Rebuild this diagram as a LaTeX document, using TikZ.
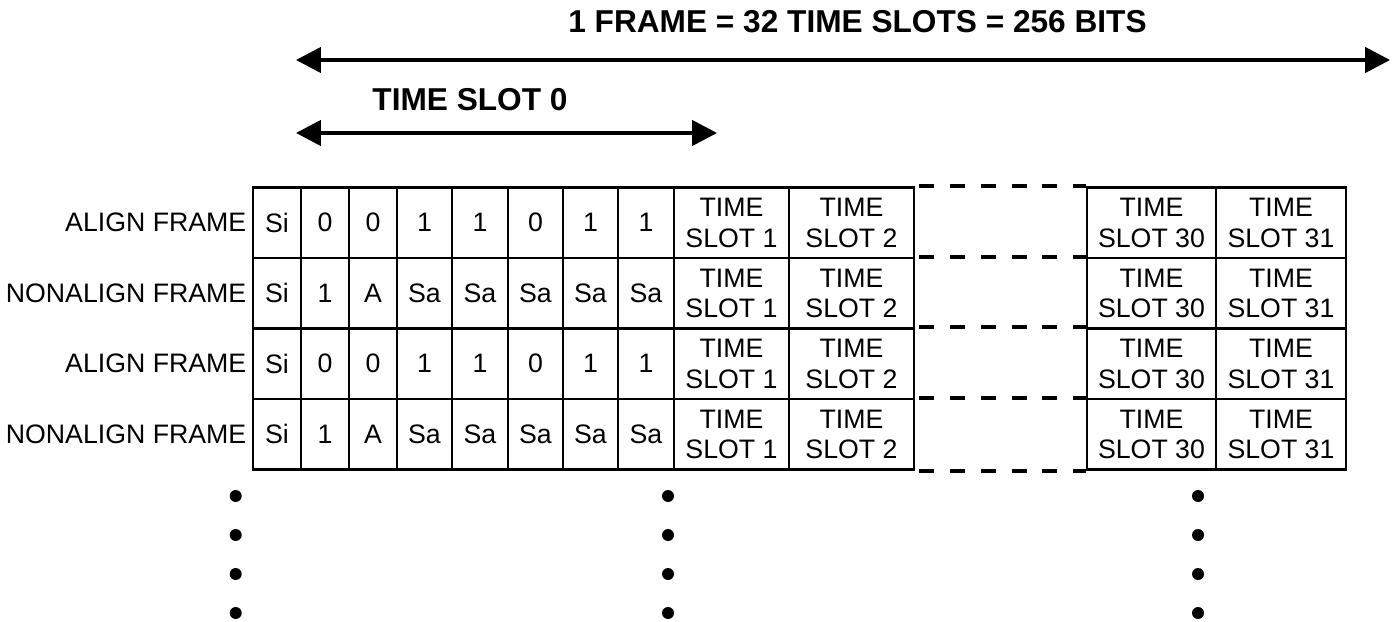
\documentclass[tikz,border=0pt]{standalone}
\usepackage{fontspec}
\setmainfont{Liberation Sans}
\usepackage{tikz}
\usetikzlibrary{arrows.meta}
\tikzset{>=stealth}
\tikzset{
  cell/.style={draw, line width=0.7pt, inner sep=0pt, align=center,
    font=\fontsize{7.6}{8.7}\selectfont},
  rowlabel/.style={anchor=east, inner sep=0pt, font=\fontsize{7.6}{8.7}\selectfont},
  heading/.style={inner sep=0pt, font=\fontsize{9}{10.8}\selectfont\bfseries},
  span/.style={{Triangle[length=7.1pt,width=7.2pt]}-{Triangle[length=7.1pt,width=7.2pt]},
    line width=1pt},
  gapline/.style={line width=1.2pt, dash pattern=on 0.15cm off 0.158cm},
}
\def\colx{{2.53,3.01,3.49,3.97,4.52,5.08,5.63,6.18,6.74,7.89,9.14,10.87,12.16,13.46}}

\begin{document}
\begin{tikzpicture}
        \useasboundingbox (0,0) rectangle (13.98,-6.21);
        % frame and time slot 0 spans
        \coordinate (frameL) at (2.96,-0.60);
        \coordinate (frameR) at (13.90,-0.60);
        \coordinate (slotL) at (2.96,-1.33);
        \coordinate (slotR) at (7.17,-1.33);
        \draw[span] (frameL) -- (frameR);
        \draw[span] (slotL) -- (slotR);
        \node[heading] (frametitle) at (8.575,-0.22) {1 FRAME = 32 TIME SLOTS = 256 BITS};
        \node[heading] (slottitle) at (4.70,-1.00) {TIME SLOT 0};
        % rows with bits of time slot 0
        \foreach \y/\lab/\bits [count=\r] in {1.875/ALIGN FRAME/{Si,0,0,1,1,0,1,1},
            2.58/NONALIGN FRAME/{Si,1,A,Sa,Sa,Sa,Sa,Sa},
            3.285/ALIGN FRAME/{Si,0,0,1,1,0,1,1},
            3.99/NONALIGN FRAME/{Si,1,A,Sa,Sa,Sa,Sa,Sa}} {
          \node[rowlabel] (label\r) at (2.47,{-\y-0.3525}) {\lab};
          \foreach \b [count=\c] in \bits {
            \pgfmathsetmacro\xl{\colx[\c-1]}
            \pgfmathsetmacro\xr{\colx[\c]}
            \pgfmathsetmacro\w{(\xr-\xl)*28.4527}
            \node[cell, minimum width=\w pt, minimum height=0.705cm]
              (cell\r-\c) at ({(\xl+\xr)/2},{-\y-0.3525}) {\b};
          }
          % other time slots
          \foreach \c/\slot in {9/1,10/2,12/30,13/31} {
            \pgfmathsetmacro\xl{\colx[\c-1]}
            \pgfmathsetmacro\xr{\colx[\c]}
            \pgfmathsetmacro\w{(\xr-\xl)*28.4527}
            \node[cell, minimum width=\w pt, minimum height=0.705cm]
              (cell\r-\c) at ({(\xl+\xr)/2},{-\y-0.3525}) {TIME\\SLOT \slot};
          }
          \draw[gapline] ([xshift=0.04cm]cell\r-10.north east) -- (cell\r-12.north west);
        }
        \draw[gapline] ([xshift=0.04cm]cell4-10.south east) -- (cell4-12.south west);
        % more frames follow
        \foreach \x in {2.357,6.68,11.98}
          \foreach \y in {4.96,5.35,5.74,6.13}
            \fill (\x,-\y) circle (0.06);
      \end{tikzpicture}
\end{document}
